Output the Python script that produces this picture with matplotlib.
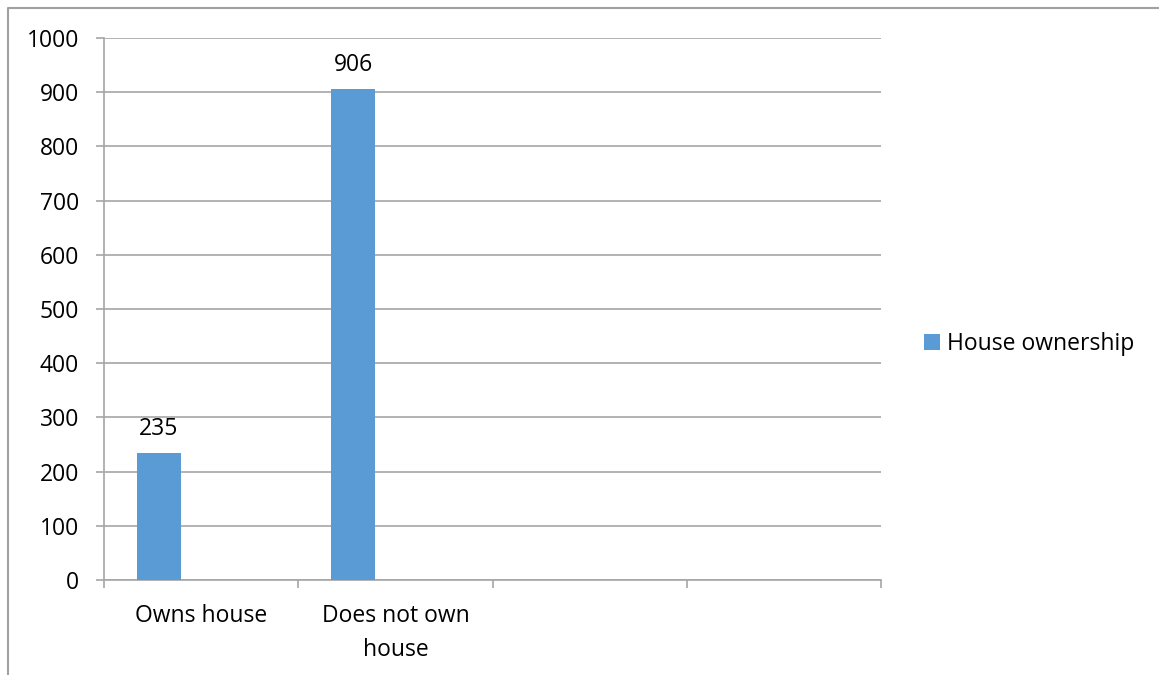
import matplotlib
matplotlib.use("Agg")
import matplotlib.pyplot as plt
from matplotlib.lines import Line2D

categories = ["Owns house", "Does not own\nhouse", "", ""]
counts = [235, 906]
series_name = "House ownership"
y_ticks = [0, 100, 200, 300, 400, 500, 600, 700, 800, 900, 1000]

plt.rcParams["font.family"] = ["Open Sans", "DejaVu Sans"]
W, H = 1159, 675
fs = 16.5
fig = plt.figure(figsize=(W / 100, H / 100), dpi=100)
ax = fig.add_axes([104 / W, 1 - 580 / H, (881 - 104) / W, (580 - 38) / H])

grid_col = "#a6a6a6"
bar_col = "#5b9bd5"

# bars sit in the left part of each category slot
bar_w = 0.225
lefts = [i + 0.17 for i in range(len(counts))]
bars = ax.bar(lefts, counts, width=bar_w, align="edge", color=bar_col,
              label=series_name, zorder=3)
for b, v in zip(bars, counts):
    ax.text(b.get_x() + b.get_width() / 2, v + 22, str(v), ha="center",
            va="bottom", fontsize=fs)

ax.set_xlim(0, len(categories))
ax.set_ylim(0, 1000)
ax.set_yticks(y_ticks)
ax.yaxis.grid(True, color=grid_col, linewidth=1.2, zorder=0)
ax.tick_params(axis="y", length=6, color=grid_col, width=1.2, labelsize=fs, pad=12)

# category boundary ticks, labels centred in each slot
ax.set_xticks(range(len(categories) + 1))
ax.set_xticklabels([])
ax.set_xticks([i + 0.5 for i in range(len(categories))], minor=True)
ax.set_xticklabels(categories, minor=True, fontsize=fs, linespacing=1.55)
ax.tick_params(axis="x", which="major", length=6, color=grid_col, width=1.2)
ax.tick_params(axis="x", which="minor", length=0, pad=17)

for s in ["top", "right"]:
    ax.spines[s].set_visible(False)
for s in ["left", "bottom"]:
    ax.spines[s].set_color(grid_col)
    ax.spines[s].set_linewidth(1.2)

fig.legend(loc="center left", bbox_to_anchor=(915 / W, 1 - 344 / H),
           frameon=False, fontsize=fs, handlelength=0.7, handleheight=0.7,
           handletextpad=0.3, borderaxespad=0)

# chart frame
fig.add_artist(Line2D([8 / W, 8 / W, 1], [0, 1 - 8 / H, 1 - 8 / H],
                      transform=fig.transFigure, color="#a0a0a0", linewidth=1.5))

fig.savefig("out.png", dpi=100)
